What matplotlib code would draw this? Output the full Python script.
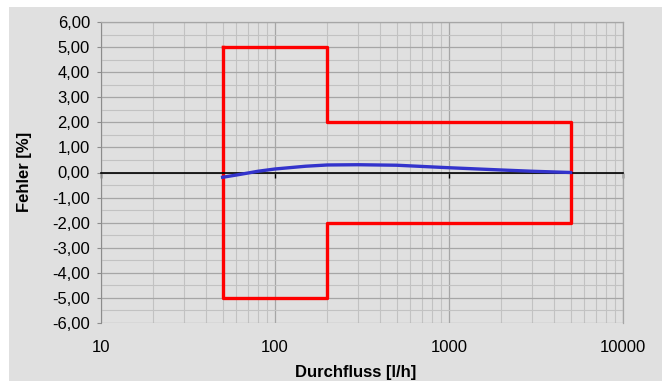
import numpy as np
import matplotlib.pyplot as plt
from matplotlib.ticker import FixedLocator, NullFormatter, FuncFormatter

plt.rcParams['font.family'] = ['Liberation Sans', 'DejaVu Sans']

# error curve
flow = [50, 60, 70, 80, 100, 150, 200, 300, 500, 1000, 2000, 3000, 5000]
error = [-0.19, -0.10, -0.02, 0.05, 0.14, 0.25, 0.30, 0.31, 0.29, 0.19, 0.10, 0.05, 0.0]

# tolerance band (max. permissible error)
tol_x = [50, 200, 200, 5000, 5000, 200, 200, 50, 50]
tol_y = [5, 5, 2, 2, -2, -2, -5, -5, 5]

y_ticks = np.arange(-6, 7, 1)
x_ticks = [10, 100, 1000, 10000]

fig = plt.figure(figsize=(6.62, 3.82), dpi=100)
fig.patch.set_facecolor('white')
# grey chart area
bg = plt.Rectangle((9 / 662, 0.003), 1, (382 - 7) / 382 - 0.003,
                   transform=fig.transFigure, facecolor='#e0e0e0',
                   edgecolor='none', zorder=-10)
fig.add_artist(bg)

ax = fig.add_axes([101 / 662, 1 - 323 / 382, 522 / 662, 301 / 382])
ax.set_facecolor('#e0e0e0')
ax.set_xscale('log')
ax.set_xlim(10, 10000)
ax.set_ylim(-6, 6)

# grid
minor_x = [m * d for d in [10, 100, 1000] for m in range(2, 10)]
ax.xaxis.set_major_locator(FixedLocator(x_ticks))
ax.xaxis.set_minor_locator(FixedLocator(minor_x))
ax.xaxis.set_minor_formatter(NullFormatter())
ax.yaxis.set_major_locator(FixedLocator(y_ticks))
ax.yaxis.set_minor_locator(FixedLocator(np.arange(-5.5, 6, 1)))
ax.grid(which='major', color='#a6a6a6', linewidth=0.9)
ax.grid(which='minor', color='#c2c2c2', linewidth=0.8)
ax.set_axisbelow(True)

ax.plot(tol_x, tol_y, color='#ff0000', linewidth=2.4, zorder=3)
ax.plot(flow, error, color='#3333cc', linewidth=2.4, zorder=4)

# x axis line crosses at 0
ax.spines['bottom'].set_position(('data', 0))
ax.spines['bottom'].set_color('black')
ax.spines['bottom'].set_linewidth(1.2)
ax.spines['bottom'].set_zorder(3.5)
ax.tick_params(axis='x', which='major', direction='out', length=3.5, width=1,
               color='black', labelbottom=False)
ax.tick_params(axis='x', which='minor', length=0)
for s in ['top', 'right']:
    ax.spines[s].set_color('#a6a6a6')
    ax.spines[s].set_linewidth(0.9)
ax.spines['left'].set_color('#8c8c8c')
ax.tick_params(axis='y', which='major', direction='out', length=3, color='#8c8c8c',
               labelsize=12, pad=5)
ax.tick_params(axis='y', which='minor', length=0)
ax.yaxis.set_major_formatter(FuncFormatter(lambda v, p: f'{v:.2f}'.replace('.', ',')))

# labels at the bottom of the plot
sec = ax.secondary_xaxis(0.0)
sec.xaxis.set_major_locator(FixedLocator(x_ticks))
sec.xaxis.set_minor_locator(FixedLocator([]))
sec.xaxis.set_major_formatter(FuncFormatter(lambda v, p: f'{int(v)}'))
sec.tick_params(axis='x', length=0, labelsize=12, pad=12)
sec.spines['bottom'].set_visible(False)

# axis titles
fig.text(356 / 662, 1 - 373 / 382, 'Durchfluss [l/h]', fontsize=12, fontweight='bold',
         ha='center', va='center')
fig.text(24 / 662, 1 - 172 / 382, 'Fehler [%]', fontsize=12, fontweight='bold',
         ha='center', va='center', rotation=90)

fig.savefig('out.png', dpi=100, facecolor='white')
